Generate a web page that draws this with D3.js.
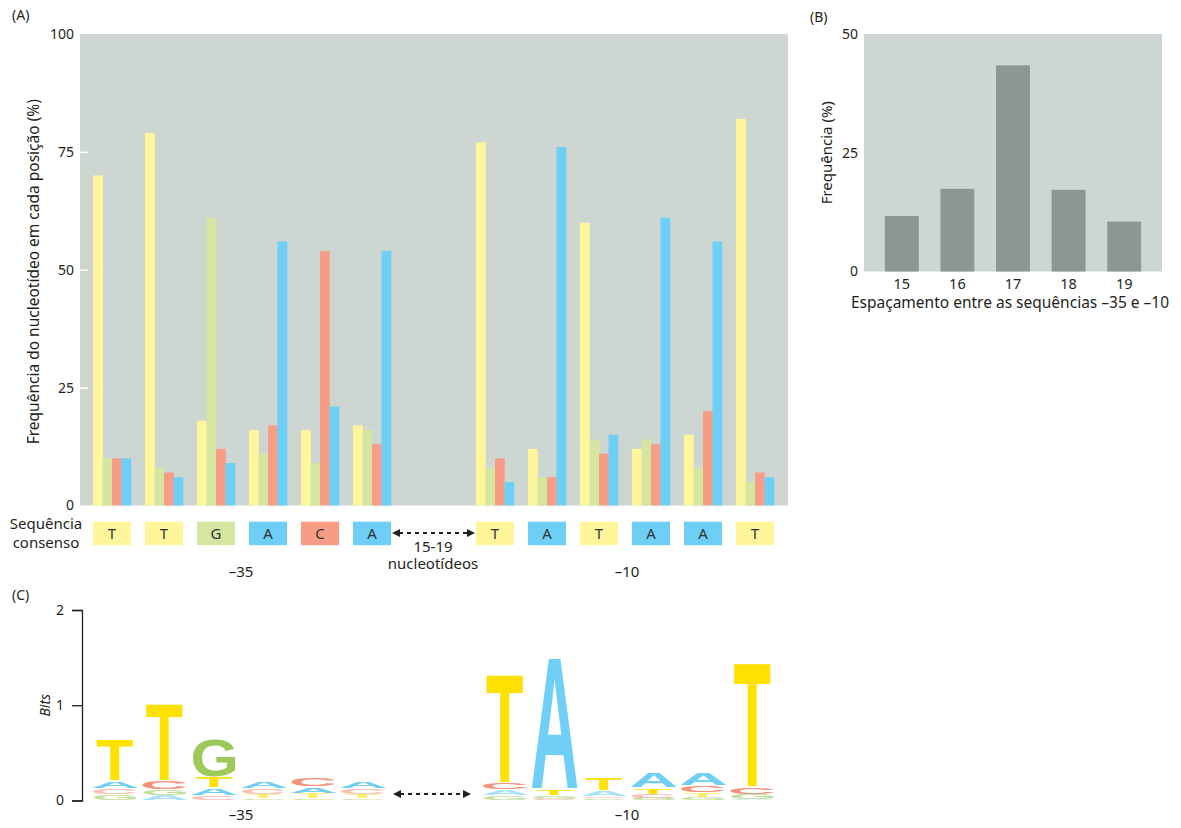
<!DOCTYPE html>
<html>
<head>
<meta charset="utf-8">
<script src="https://cdn.jsdelivr.net/npm/d3@7"></script>
<style>
  html, body { margin: 0; padding: 0; background: #fff; }
  svg { display: block; }
  text { font-family: "Noto Sans", "Open Sans", sans-serif; }
</style>
</head>
<body>
<svg id="chart" width="1181" height="828"></svg>
<script>
// ---------------- DATA ----------------
const consensus = ["T","T","G","A","C","A","T","A","T","A","A","T"];
const nucleotides = ["T","G","C","A"];           // bar order in each group
const freqT = [70, 79, 18, 16, 16, 17, 77, 12, 60, 12, 15, 82];
const freqG = [10,  8, 61, 11,  9, 16,  8,  6, 14, 14,  8,  5];
const freqC = [10,  7, 12, 17, 54, 13, 10,  6, 11, 13, 20,  7];
const freqA = [10,  6,  9, 56, 21, 54,  5, 76, 15, 61, 56,  6];
const yTicksA = [0, 25, 50, 75, 100];

const spacings = ["15","16","17","18","19"];
const spacingFreq = [11.7, 17.4, 43.4, 17.2, 10.5];
const yTicksB = [0, 25, 50];

// sequence logo (bits per letter at each position)
const bitsT = [0.43, 0.815, 0.115, 0.045, 0.05, 0.045, 1.15, 0.07, 0.14, 0.06, 0.04, 1.31];
const bitsG = [0.05, 0.055, 0.40, 0.02, 0.02, 0.02, 0.04, 0.035, 0.02, 0.025, 0.035, 0.05];
const bitsC = [0.065, 0.095, 0.04, 0.05, 0.09, 0.05, 0.075, 0.015, 0.02, 0.045, 0.08, 0.075];
const bitsA = [0.085, 0.05, 0.085, 0.085, 0.07, 0.085, 0.065, 1.385, 0.055, 0.164, 0.132, 0.01];
const yTicksC = [0, 1, 2];

// ---------------- STYLE ----------------
const ink = "#231f20";
const col = { T: "#fff59b", G: "#d5e6a1", C: "#f89d85", A: "#6dcef6" };
const logoCol = { T: "#ffe100", G: "#9dc95b", C: "#f4937d", A: "#6fcff6" };
const panelBg = "#cdd6d1";
const freqBy = { T: freqT, G: freqG, C: freqC, A: freqA };
const bitsBy = { T: bitsT, G: bitsG, C: bitsC, A: bitsA };

const svg = d3.select("#chart");
function label(x, y, txt, size, anchor) {
  return svg.append("text").attr("x", x).attr("y", y)
    .attr("text-anchor", anchor || "middle")
    .style("font-size", size + "px").style("fill", ink).text(txt);
}

// ---------------- PANEL A ----------------
const A = { left: 80, right: 788, top: 34, bottom: 505.5 };
const yA = d3.scaleLinear().domain([0, 100]).range([A.bottom, A.top]);
const xL = d3.scaleBand().domain(d3.range(6)).range([93, 391]).paddingInner(0.27);
const xR = d3.scaleBand().domain(d3.range(6, 12)).range([476, 774]).paddingInner(0.27);
const xPos = i => (i < 6 ? xL(i) : xR(i));
const bw = xL.bandwidth();
const xInner = d3.scaleBand().domain(nucleotides).range([0, bw]);

label(12, 20, "(A)", 14, "start");

svg.append("rect").attr("x", A.left).attr("y", A.top)
  .attr("width", A.right - A.left).attr("height", A.bottom - A.top).attr("fill", panelBg);

const groups = svg.append("g").selectAll("g").data(consensus).join("g")
  .attr("transform", (d, i) => `translate(${xPos(i)},0)`);
groups.selectAll("rect").data((d, i) => nucleotides.map(n => ({ n, v: freqBy[n][i] })))
  .join("rect")
  .attr("x", d => xInner(d.n))
  .attr("width", xInner.bandwidth() + 0.3)
  .attr("y", d => yA(d.v))
  .attr("height", d => yA(0) - yA(d.v))
  .attr("fill", d => col[d.n]);

const axA = svg.append("g").attr("transform", `translate(${A.left},0)`)
  .call(d3.axisLeft(yA).tickValues(yTicksA).tickSize(0).tickPadding(6));
axA.select(".domain").remove();
axA.selectAll("text").style("font-size", "14px").style("font-family", "Noto Sans").style("fill", ink);

const tkA = svg.append("g").attr("transform", `translate(${A.left},0)`)
  .call(d3.axisRight(yA).tickValues([25, 50, 75]).tickSize(8).tickFormat(""));
tkA.select(".domain").remove();
tkA.selectAll("line").attr("stroke", "#ffffff").attr("stroke-width", 1.5);

svg.append("text")
  .attr("transform", `translate(39,${(A.top + A.bottom) / 2 + 2}) rotate(-90)`)
  .attr("text-anchor", "middle").style("font-size", "15.5px").style("fill", ink)
  .text("Frequência do nucleotídeo em cada posição (%)");

// consensus boxes
const boxTop = 521.7, boxH = 23.5;
const boxes = svg.append("g").selectAll("g").data(consensus).join("g")
  .attr("transform", (d, i) => `translate(${xPos(i)},${boxTop})`);
boxes.append("rect").attr("width", bw).attr("height", boxH).attr("fill", d => col[d]);
boxes.append("text").attr("x", bw / 2).attr("y", boxH / 2 + 5.5)
  .attr("text-anchor", "middle").style("font-size", "15px").style("fill", "#333").text(d => d);

label(46, 529, "Sequência", 15);
label(46, 548, "consenso", 15);

function dashedArrow(x1, x2, y) {
  const g = svg.append("g");
  g.append("line").attr("x1", x1 + 7).attr("x2", x2 - 7).attr("y1", y).attr("y2", y)
    .attr("stroke", ink).attr("stroke-width", 2).attr("stroke-dasharray", "4,4");
  g.append("path").attr("d", `M${x1},${y} L${x1 + 8},${y - 4} L${x1 + 8},${y + 4} Z`).attr("fill", ink);
  g.append("path").attr("d", `M${x2},${y} L${x2 - 8},${y - 4} L${x2 - 8},${y + 4} Z`).attr("fill", ink);
}
dashedArrow(xL(5) + bw + 1, xR(6) - 1, 533);

label(433, 552, "15-19", 15);
label(433, 569, "nucleotídeos", 15);
label(241, 577, "–35", 15);
label(627, 577, "–10", 15);

// ---------------- PANEL B ----------------
const B = { left: 864, right: 1162, top: 34, bottom: 271.5 };
const yB = d3.scaleLinear().domain([0, 50]).range([B.bottom, B.top]);
const xB = d3.scaleBand().domain(spacings).range([B.left, B.right]).paddingInner(0.39).paddingOuter(0.375);

label(810, 22, "(B)", 14, "start");
svg.append("rect").attr("x", B.left).attr("y", B.top)
  .attr("width", B.right - B.left).attr("height", B.bottom - B.top).attr("fill", panelBg);
svg.append("g").selectAll("rect").data(spacings).join("rect")
  .attr("x", d => xB(d)).attr("width", xB.bandwidth())
  .attr("y", (d, i) => yB(spacingFreq[i]))
  .attr("height", (d, i) => yB(0) - yB(spacingFreq[i]))
  .attr("fill", "#8e9691");

const axBy = svg.append("g").attr("transform", `translate(${B.left},0)`)
  .call(d3.axisLeft(yB).tickValues(yTicksB).tickSize(0).tickPadding(6));
axBy.select(".domain").remove();
axBy.selectAll("text").style("font-size", "14px").style("font-family", "Noto Sans").style("fill", ink);

const axBx = svg.append("g").attr("transform", `translate(0,${B.bottom})`)
  .call(d3.axisBottom(xB).tickSize(0).tickPadding(7));
axBx.select(".domain").remove();
axBx.selectAll("text").style("font-size", "14.5px").style("font-family", "Noto Sans").style("fill", ink);

svg.append("text")
  .attr("transform", `translate(832,${(B.top + B.bottom) / 2}) rotate(-90)`)
  .attr("text-anchor", "middle").style("font-size", "15px").style("fill", ink).text("Frequência (%)");
label(1010, 308, "Espaçamento entre as sequências –35 e –10", 15.5);

// ---------------- PANEL C ----------------
const C = { axisX: 82, top: 610, bottom: 800.5 };
const yC = d3.scaleLinear().domain([0, 2]).range([C.bottom, C.top]);
const xLogoL = d3.scalePoint().domain(d3.range(6)).range([115, 363]);
const xLogoR = d3.scalePoint().domain(d3.range(6, 12)).range([505, 752.5]);
const xLogo = i => (i < 6 ? xLogoL(i) : xLogoR(i));
const colW = 46;
const widthFactor = { T: 0.8, G: 0.92, C: 0.95, A: 1.0 };

label(12, 600, "(C)", 14, "start");

const axC = svg.append("g").attr("transform", `translate(${C.axisX},0)`)
  .call(d3.axisLeft(yC).tickValues(yTicksC).tickFormat(d3.format("d")).tickSize(10).tickPadding(8));
axC.select(".domain").attr("stroke", ink).attr("stroke-width", 1.3);
axC.selectAll("line").attr("stroke", ink).attr("stroke-width", 1.3);
axC.selectAll("text").style("font-size", "14px").style("font-family", "Noto Sans").style("fill", ink);

svg.append("text")
  .attr("transform", `translate(50,${yC(1)}) rotate(-90)`)
  .attr("text-anchor", "middle").style("font-size", "14px").style("font-style", "italic")
  .style("fill", ink).text("Bits");

// letter glyph metrics via canvas
const FONT_FAMILY = "'Liberation Sans', Arial, sans-serif";
const cctx = document.createElement("canvas").getContext("2d");
cctx.font = `bold 100px ${FONT_FAMILY}`;
const metric = {};
nucleotides.forEach(n => {
  const m = cctx.measureText(n);
  metric[n] = { l: m.actualBoundingBoxLeft, r: m.actualBoundingBoxRight, a: m.actualBoundingBoxAscent, d: m.actualBoundingBoxDescent };
});

const logo = svg.append("g");
consensus.forEach((c, i) => {
  const stack = nucleotides.map(n => ({ n, b: bitsBy[n][i] })).sort((p, q) => p.b - q.b);
  let acc = 0;
  const cx = xLogo(i);
  stack.forEach(s => {
    const y0 = yC(acc + s.b), y1 = yC(acc);
    acc += s.b;
    const h = Math.max(0.6, y1 - y0 - (y1 - y0 > 6 ? 1.2 : 0.3));
    const w = colW * widthFactor[s.n];
    const m = metric[s.n];
    const sx = w / (m.l + m.r), sy = h / (m.a + m.d);
    logo.append("text")
      .attr("transform", `translate(${cx - w / 2},${y0}) scale(${sx},${sy}) translate(${m.l},${m.a})`)
      .style("font-family", FONT_FAMILY).style("font-weight", "bold").style("font-size", "100px")
      .style("fill", logoCol[s.n]).style("opacity", h < 5 ? 0.6 : 1).text(s.n);
  });
});

dashedArrow(393, 471, 794);
label(241, 820, "–35", 15);
label(627, 820, "–10", 15);
</script>
</body>
</html>
